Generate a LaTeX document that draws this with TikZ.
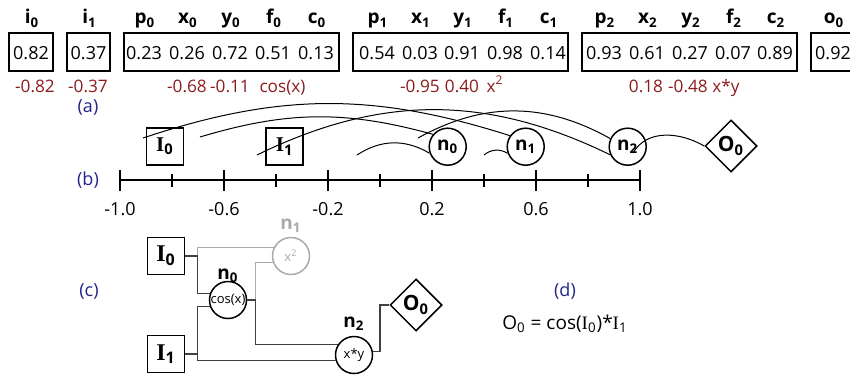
\documentclass[tikz,border=0pt]{standalone}
\usepackage{fontspec}
\setmainfont{Open Sans}
\newfontfamily\serifI{Liberation Serif}
\usepackage{xcolor}
\definecolor{cgpred}{RGB}{140, 28, 28}
\definecolor{cgpblue}{RGB}{35, 35, 140}
\definecolor{cgpgray}{RGB}{170, 170, 170}
\usetikzlibrary{arrows.meta, shapes.geometric, positioning}

\newcommand{\Inp}[1]{{\serifI\bfseries I}\textsubscript{\bfseries #1}}

\begin{document}
\begin{tikzpicture}[x=0.5pt, y=0.5pt,
    genehead/.style={font=\fontsize{9.5}{11}\selectfont\bfseries, anchor=base, inner sep=0pt},
    gene/.style={font=\fontsize{9}{11}\selectfont, anchor=base, inner sep=0pt},
    geneval/.style={font=\fontsize{8.6}{10}\selectfont, text=cgpred, anchor=base, inner sep=0pt},
    genebox/.style={draw, line width=0.7pt, minimum height=19pt, inner sep=0pt},
    panel/.style={font=\fontsize{9}{11}\selectfont, text=cgpblue},
    inbox/.style={draw, line width=0.75pt, minimum size=18.5pt, inner sep=0pt},
    opnode/.style={draw, circle, line width=0.75pt, minimum size=18.5pt, inner sep=0pt},
    outnode/.style={draw, diamond, aspect=1, line width=0.75pt, minimum size=26pt,
        inner sep=0pt, font=\fontsize{10.5}{12}\selectfont\bfseries},
    nodelab/.style={font=\fontsize{9.5}{11}\selectfont\bfseries, anchor=base, inner sep=0pt},
    posarc/.style={line width=0.5pt},
    wire/.style={line width=0.6pt, black!75}]

\path[use as bounding box, clip] (0,0) rectangle (850,-375);

% === (a) Genoma ===
\node[genebox, minimum width=22pt]    (box-i0) at (31,-52) {};
\node[genebox, minimum width=21.5pt]  (box-i1) at (88.5,-52) {};
\node[genebox, minimum width=107.5pt] (box-n0) at (231.5,-52) {};
\node[genebox, minimum width=107.5pt] (box-n1) at (460.5,-52) {};
\node[genebox, minimum width=107.5pt] (box-n2) at (689.5,-52) {};
\node[genebox, minimum width=22pt]    (box-o0) at (833,-52) {};

\foreach \x/\l/\i/\v [count=\k] in {31/i/0/0.82, 88.5/i/1/0.37,
    144/p/0/0.23, 187/x/0/0.26, 230/y/0/0.72, 273/f/0/0.51, 316/c/0/0.13,
    377/p/1/0.54, 420/x/1/0.03, 462/y/1/0.91, 505/f/1/0.98, 548/c/1/0.14,
    604/p/2/0.93, 647/x/2/0.61, 690/y/2/0.27, 733/f/2/0.07, 775/c/2/0.89,
    833/o/0/0.92} {
    \node[genehead] (head-\k) at (\x+1,-24) {\l\textsubscript{\i}};
    \node[gene] (val-\k) at (\x,-59) {\v};
}

% valores decodificados
\foreach \x/\v [count=\k] in {35/-0.82, 88/-0.37, 187/-0.68, 230/-0.11,
    420/-0.95, 462/0.40, 646/0.18, 688/-0.48}
    \node[geneval] (dec-\k) at (\x,-92) {\v};
\node[geneval] (fun-0) at (282.5,-92) {cos(x)};
\node[geneval] (fun-1) at (495,-92) {x\textsuperscript{2}};
\node[geneval] (fun-2) at (726,-92) {x*y};

% === Etiquetas ===
\node[panel] (lab-a) at (88,-107) {(a)};
\node[panel] (lab-b) at (88,-180) {(b)};
\node[panel] (lab-c) at (89,-291) {(c)};
\node[panel] (lab-d) at (565,-291) {(d)};

% === (b) Eje de posiciones ===
\draw[line width=1pt] (120,-180) -- (640,-180);
\foreach \v [count=\k] in {-1.0,-0.6,-0.2,0.2,0.6,1.0} {
    \draw[line width=1pt] ({120+(\v+1)*260},-170) -- ({120+(\v+1)*260},-191);
    \node[font=\fontsize{9}{11}\selectfont, anchor=base, inner sep=0pt]
        (tick-\k) at ({120+(\v+1)*260},-215) {\v};
}
\foreach \v in {-0.8,-0.4,0.0,0.4,0.8}
    \draw[line width=0.8pt] ({120+(\v+1)*260},-174) -- ({120+(\v+1)*260},-187);

% nodos sobre el eje
\node[inbox, font=\fontsize{10.5}{12}\selectfont] (I0b) at (165,-146.5) {\Inp{0}};
\node[inbox, font=\fontsize{10.5}{12}\selectfont] (I1b) at (284.7,-146.5) {\Inp{1}};
\node[opnode, font=\fontsize{9.5}{11}\selectfont\bfseries] (n0b) at (447.7,-146.7) {n\textsubscript{0}};
\node[opnode, font=\fontsize{9.5}{11}\selectfont\bfseries] (n1b) at (525.7,-146.7) {n\textsubscript{1}};
\node[opnode, font=\fontsize{9.5}{11}\selectfont\bfseries] (n2b) at (627.7,-146.7) {n\textsubscript{2}};
\node[outnode] (O0b) at (731,-146) {O\textsubscript{0}};

% conexiones por posicion
\coordinate (x1pos) at (143,-138);
\coordinate (x0pos) at (200,-137);
\coordinate (y2pos) at (257,-155);
\coordinate (y0pos) at (357,-155);
\coordinate (x2pos) at (418,-138);
\coordinate (y1pos) at (484,-155);
\coordinate (o0pos) at (633,-153);
\draw[posarc] (x1pos) to[bend left=18] (n1b.145);
\draw[posarc] (x0pos) to[bend left=16] (n0b.140);
\draw[posarc] (y2pos) to[bend left=26] (n2b.205);
\draw[posarc] (y0pos) to[bend left=32] (n0b.200);
\draw[posarc] (x2pos) to[bend left=29] (n2b.155);
\draw[posarc] (y1pos) to[bend left=35] (n1b.200);
\draw[posarc] (o0pos) to[out=60, in=150] (O0b.west);

% === (c) Grafo ===
\node[inbox, font=\fontsize{12}{14}\selectfont] (I0c) at (166,-256) {\Inp{0}};
\node[inbox, font=\fontsize{12}{14}\selectfont] (I1c) at (166,-354) {\Inp{1}};
\node[opnode, font=\fontsize{6.5}{8}\selectfont] (n0c) at (228,-300) {\makebox[0pt]{cos(x)}};
\node[opnode, draw=cgpgray, text=cgpgray, font=\fontsize{6.5}{8}\selectfont]
    (n1c) at (291,-256) {\makebox[0pt]{x\textsuperscript{2}}};
\node[opnode, font=\fontsize{6.5}{8}\selectfont] (n2c) at (354,-355) {\makebox[0pt]{x*y}};
\node[outnode] (O0c) at (416,-305) {O\textsubscript{0}};

\node[nodelab] (n0lab) at (228,-279) {n\textsubscript{0}};
\node[nodelab, text=cgpgray] (n1lab) at (291,-229) {n\textsubscript{1}};
\node[nodelab] (n2lab) at (354,-327) {n\textsubscript{2}};

% nodo inactivo
\draw[wire, cgpgray] (I0c.east) -- ++(12,0) |- (n1c.155);
\draw[wire, cgpgray] (n0c.east) ++(8.5,0) |- (n1c.199);
% nodos activos
\draw[wire] (I0c.east) -- ++(12,0) |- (n0c.160);
\draw[wire] (I1c.east) -- ++(12,0) |- (n0c.200);
\draw[wire] (I1c.east) -- ++(12,0) |- (n2c.196);
\draw[wire] (n0c.east) -- ++(8.5,0) |- (n2c.148);
\draw[wire] (n2c.10) -- ++(7,0) |- (O0c.west);

% === (d) Expresion ===
\node[font=\fontsize{9.5}{11}\selectfont, anchor=base, inner sep=0pt] (expr) at (565,-329)
    {O\textsubscript{0} = cos({\serifI I}\textsubscript{0})*{\serifI I}\textsubscript{1}};

\end{tikzpicture}
\end{document}
